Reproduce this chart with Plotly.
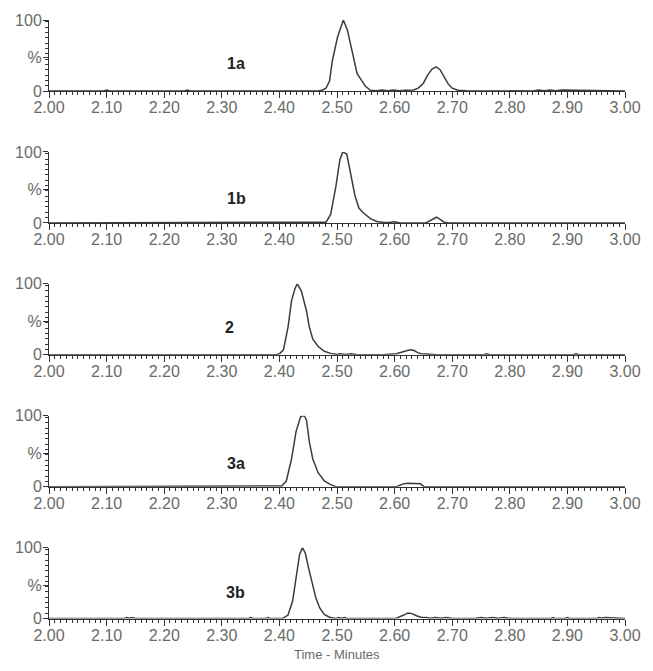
import plotly.graph_objects as go

# ---- data (time in minutes, intensity in %) ----
labels = ["1a", "1b", "2", "3a", "3b"]
label_x = [2.324, 2.325, 2.314, 2.324, 2.323]
label_y = [39, 34, 38, 33, 37]

t1a = [2.00, 2.095, 2.10, 2.105, 2.235, 2.24, 2.245, 2.467, 2.475, 2.481, 2.487, 2.492, 2.501,
       2.511, 2.518, 2.526, 2.535, 2.541, 2.549, 2.558, 2.568, 2.578, 2.588, 2.598, 2.608,
       2.618, 2.633, 2.641, 2.650, 2.657, 2.665, 2.672, 2.679, 2.686, 2.693, 2.700, 2.710,
       2.725, 2.84, 2.85, 2.86, 2.87, 2.88, 2.89, 3.00]
v1a = [0, 0, 1.5, 0, 0, 1.5, 0, 0, 1.5, 4, 14, 43, 76,
       100, 86, 57, 24, 17, 7, 1, 0.5, 1.5, 0.5, 1.5, 0.5,
       1, 1.5, 4, 11, 22, 31, 34, 30, 20, 10, 4, 1,
       0.5, 0, 1.5, 0.5, 1.5, 0.5, 1.5, 0]

t1b = [2.00, 2.475, 2.481, 2.489, 2.498, 2.505, 2.510, 2.517, 2.524, 2.531, 2.538, 2.546,
       2.558, 2.569, 2.580, 2.59, 2.60, 2.61, 2.654, 2.662, 2.668, 2.673, 2.679, 2.686, 2.694, 3.00]
v1b = [0, 0, 1, 12, 51, 89, 100, 97, 70, 39, 21, 14,
       6, 2, 1, 0.5, 1.5, 0, 0, 3, 6, 8, 5, 1, 0, 0]

t2 = [2.00, 2.395, 2.401, 2.407, 2.415, 2.421, 2.427, 2.431, 2.438, 2.447, 2.452, 2.458,
      2.467, 2.478, 2.489, 2.500, 2.505, 2.515, 2.525, 2.535, 2.58, 2.603, 2.609, 2.616, 2.622,
      2.628, 2.634, 2.640, 2.646, 2.654, 2.664, 2.674, 2.755, 2.76, 2.765, 2.91, 2.915, 2.92, 3.00]
v2 = [0, 0, 2, 7, 39, 76, 93, 100, 90, 62, 39, 22,
      12, 5, 2, 0.5, 1.5, 0.5, 1.5, 0, 0, 1.5, 3, 5, 6,
      7, 6, 3, 1.5, 1, 0.5, 0, 0, 1.5, 0, 0, 1.5, 0, 0]

t3a = [2.00, 2.400, 2.404, 2.412, 2.421, 2.429, 2.437, 2.443, 2.447, 2.452, 2.458, 2.467,
       2.478, 2.489, 2.498, 2.603, 2.608, 2.615, 2.623, 2.631, 2.639, 2.645, 2.651, 3.00]
v3a = [0, 0, 1, 8, 39, 78, 99, 100, 94, 63, 39, 20,
       8, 3, 0, 0, 2, 4, 5, 5, 5, 4, 0, 0]

t3b = [2.00, 2.13, 2.135, 2.14, 2.145, 2.15, 2.345, 2.35, 2.355, 2.375, 2.38, 2.385,
       2.405, 2.415, 2.423, 2.429, 2.435, 2.440, 2.445, 2.451, 2.457, 2.463, 2.470, 2.478,
       2.487, 2.497, 2.503, 2.508, 2.513, 2.518, 2.601, 2.608, 2.616, 2.623, 2.630, 2.638,
       2.646, 2.655, 2.663, 2.67, 2.68, 2.69, 2.70, 2.74, 2.75, 2.76, 2.77, 2.78, 2.79,
       2.80, 2.87, 2.875, 2.88, 2.895, 2.90, 2.905, 2.95, 2.955, 2.96, 2.965, 3.00]
v3b = [0, 0, 1.5, 0.5, 1.5, 0, 0, 1.5, 0, 0, 1.5, 0,
       0, 5, 25, 60, 90, 100, 92, 70, 50, 30, 15, 6,
       2, 0, 1.5, 0.5, 1.5, 0, 0, 2, 5, 8, 7, 4,
       2, 1.5, 0.5, 1.5, 0.5, 1.5, 0, 0, 1.5, 0.5, 1.5, 0.5, 1.5,
       0, 0, 1.5, 0, 0, 1.5, 0, 0, 1.5, 0.5, 1.5, 0]

series_t = [t1a, t1b, t2, t3a, t3b]
series_v = [v1a, v1b, v2, v3a, v3b]

x_ticks = [2.00, 2.10, 2.20, 2.30, 2.40, 2.50, 2.60, 2.70, 2.80, 2.90, 3.00]
x_ticktext = ["2.00", "2.10", "2.20", "2.30", "2.40", "2.50", "2.60", "2.70", "2.80", "2.90", "3.00"]

# ---- layout geometry (page body margin removed by post_script) ----
W, H = 653, 671
ML, MR, MT, MB = 49, 20, 20, 52
plot_h = H - MT - MB
top0, panel_h, step = 20, 71, 131.9

fig = go.Figure()
layout = dict(
    width=W, height=H,
    margin=dict(l=ML, r=MR, t=MT, b=MB),
    paper_bgcolor="white", plot_bgcolor="white",
    showlegend=False,
    font=dict(family="Liberation Sans, Arial, sans-serif", color="#6a6a6a"),
)

ann = []
for i in range(5):
    n = "" if i == 0 else str(i + 1)
    top_px = top0 + step * i
    bot_px = top_px + panel_h
    d0 = (H - MB - bot_px) / plot_h
    d1 = (H - MB - top_px) / plot_h
    fig.add_trace(go.Scatter(
        x=series_t[i], y=series_v[i], mode="lines",
        line=dict(color="#3c3c3c", width=1.5),
        xaxis="x" + n, yaxis="y" + n, hoverinfo="skip",
    ))
    layout["xaxis" + n] = dict(
        domain=[0, 1], range=[2.0, 3.0], anchor="y" + n,
        showgrid=False, zeroline=False, showline=True, linecolor="#333", linewidth=1,
        tickmode="array", tickvals=x_ticks, ticktext=x_ticktext,
        ticks="outside", ticklen=6, tickwidth=1, tickcolor="#333",
        ticklabelstandoff=-4,
        tickfont=dict(size=16, color="#6a6a6a"),
        minor=dict(dtick=0.01, tick0=2.0, ticks="outside", ticklen=3, tickwidth=1, tickcolor="#333"),
    )
    layout["yaxis" + n] = dict(
        domain=[d0, d1], range=[0, 100], anchor="x" + n,
        showgrid=False, zeroline=False, showline=True, linecolor="#333", linewidth=1,
        tickmode="array", tickvals=[0, 47, 100], ticktext=["0", "%", "100"],
        ticks="outside", ticklen=5, tickwidth=1, tickcolor="#333",
        ticklabelstandoff=-2,
        tickfont=dict(size=16, color="#6a6a6a"),
        minor=dict(dtick=7.5, tick0=0, ticks="outside", ticklen=3, tickwidth=1, tickcolor="#333"),
    )
    ann.append(dict(
        x=label_x[i], y=label_y[i], xref="x" + n, yref="y" + n,
        text="<b>%s</b>" % labels[i], showarrow=False,
        font=dict(size=16, color="#222", family="Liberation Sans, Arial, sans-serif"),
    ))

ann.append(dict(
    x=0.50, y=(H - MB - 664) / plot_h, xref="paper", yref="paper",
    text="Time - Minutes", showarrow=False,
    font=dict(size=13, color="#6a6a6a"),
))
layout["annotations"] = ann
fig.update_layout(**layout)
fig.write_html(
    "out.html",
    config={"displayModeBar": False},
    post_script="document.body.style.margin='0';document.body.style.overflow='hidden';",
)
